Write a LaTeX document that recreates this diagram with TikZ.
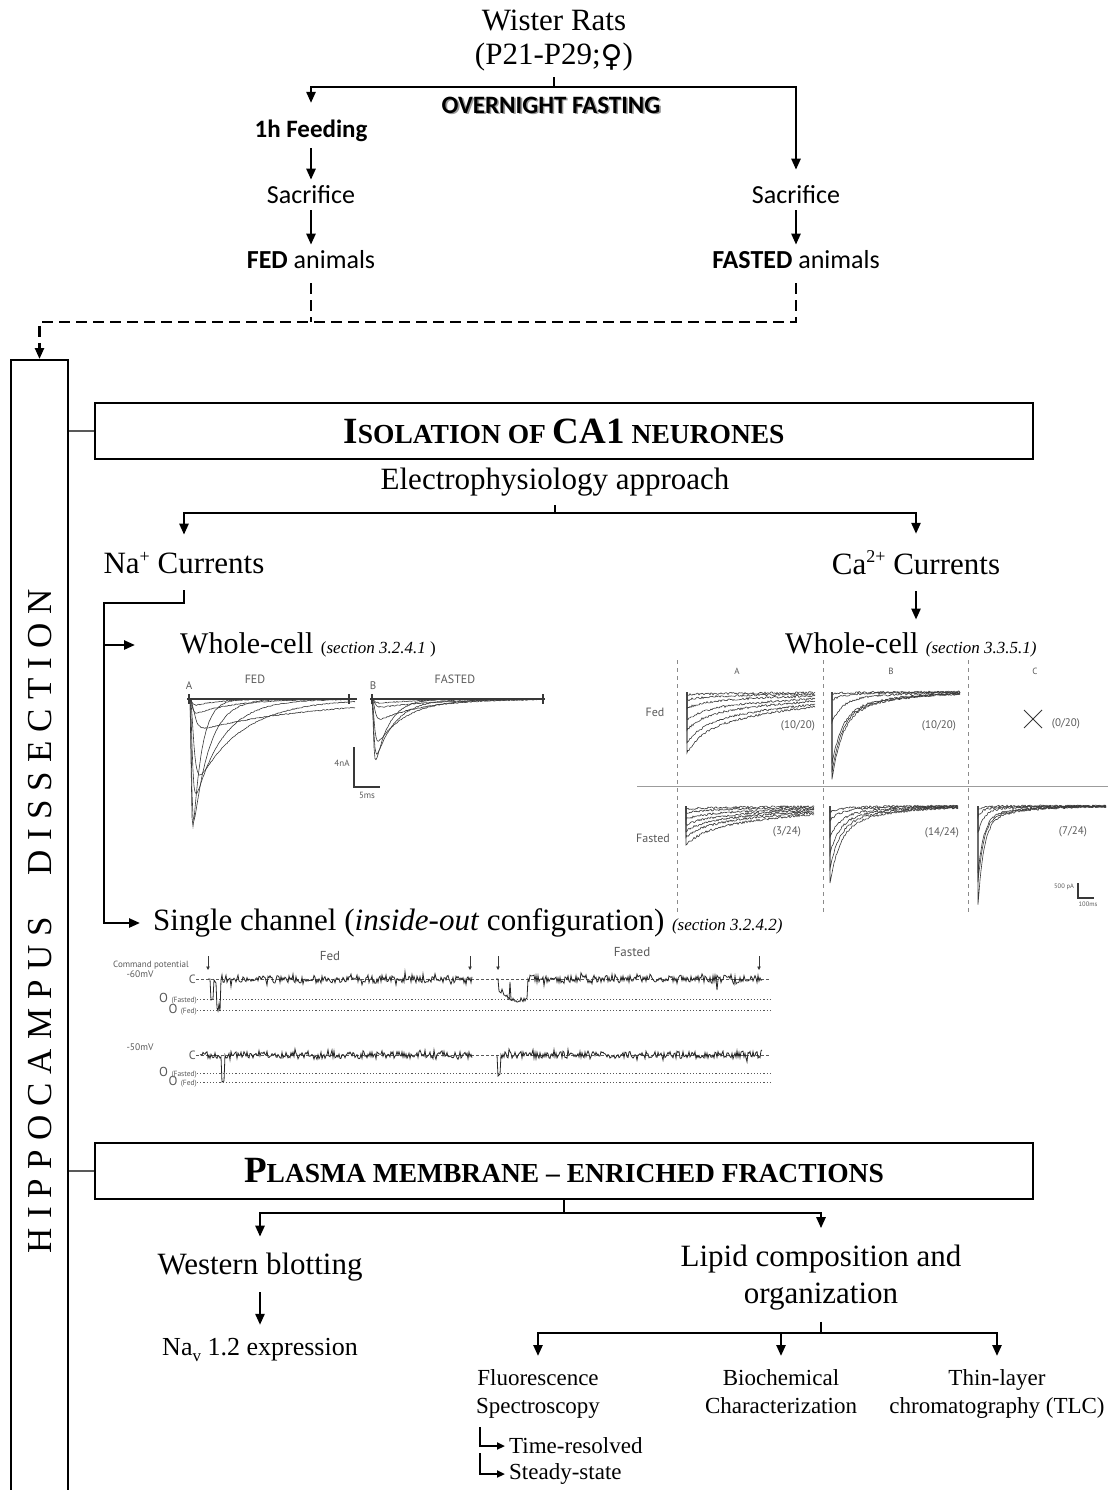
\documentclass[tikz,border=0pt]{standalone}
\usepackage{fontspec}
\setmainfont{Liberation Serif}
\newfontfamily\calibri{Carlito}
\newfontfamily\figsans{PT Sans}
\newfontfamily\symbfont{DejaVu Sans}
\usepackage{xcolor}
\usetikzlibrary{positioning,arrows.meta}

\definecolor{trace}{gray}{0.22}
\definecolor{panel}{gray}{0.35}

\newcommand\fsize[1]{\fontsize{#1}{#1}\selectfont}
% fake small capitals: big letters first, then small ones
\newcommand\fsc[2]{{\fsize{37}#1}{\fsize{27.5}#2}}
\newcommand\shadowtext[1]{\rlap{\kern1.6pt\raisebox{-1.6pt}{\color{black!40}#1}}#1}
\newcommand\supr[1]{\raisebox{0.38em}{\fsize{18}#1}}
\newcommand\spc{\hspace{0.26em}}

\begin{document}
\begin{tikzpicture}[x=1pt,y=-1pt,
  every node/.style={inner sep=0pt},
  big/.style={font=\fsize{31}},
  leaf/.style={font=\fontsize{23}{28}\selectfont,align=center,anchor=north},
  cal/.style={font=\calibri\fsize{26}},
  calb/.style={font=\calibri\bfseries\fsize{25}},
  lab/.style={font=\figsans\fsize{#1},text=panel},
  lab/.default=11,
  conn/.style={line width=2.4pt},
  arr/.style={conn,-{Triangle[length=11pt,width=9pt]}},
  dconn/.style={conn,dash pattern=on 11pt off 6pt},
  sarr/.style={line width=2pt,-{Triangle[length=8pt,width=7pt]}},
  thinconn/.style={line width=1.3pt,gray!70!black},
  stagebox/.style={draw,line width=2.4pt,minimum width=938pt,minimum height=56pt,font=\bfseries\fsize{27.5}},
  tr/.style={trace,line width=0.6pt},
  chan/.style={black!85,line width=0.8pt},
  scalebar/.style={trace,line width=1.1pt},
  levelline/.style={panel,line width=0.8pt,dash pattern=on 2.5pt off 2.5pt},
  openline/.style={panel,line width=0.8pt,dash pattern=on 1.2pt off 2pt},
  stimarrow/.style={trace,line width=1pt,-{Triangle[length=3.5pt,width=3.5pt]}}
]
\useasboundingbox (0,0) rectangle (1116,1490);

% animals and feeding protocol
\node[big] (wister) at (554,20) {Wister Rats};
\node[big] (age) at (554,57) {(P21-P29;{\symbfont\bfseries\fsize{30}\raisebox{-2pt}{♀}})};
\node[calb] (fasting) at (551,106) {\shadowtext{OVERNIGHT FASTING}};
\node[calb] (feeding) at (311,131) {1h Feeding};
\node[cal] (sacfed) at (311,195) {Sacrifice};
\node[cal] (fed) at (311,260) {\textbf{FED} animals};
\node[cal] (sacfasted) at (796,195) {Sacrifice};
\node[cal] (fasted) at (796,260) {\textbf{FASTED} animals};
\coordinate (split1) at (554,87);
\draw[conn,shorten <=6pt] (age) -- (split1);
\draw[arr,shorten >=17pt] (split1) -| (feeding.north);
\draw[arr,shorten >=16pt] (split1) -| (sacfasted.north);
\draw[arr,shorten <=6pt,shorten >=6pt] (feeding) -- (sacfed);
\draw[arr,shorten <=6pt,shorten >=6pt] (sacfed) -- (fed);
\draw[arr,shorten <=6pt,shorten >=6pt] (sacfasted) -- (fasted);

% both groups go to the dissection
\node[draw,line width=1.8pt,minimum width=57pt,minimum height=1160pt,anchor=north] (hippo) at (39.5,359) {};
\node[rotate=90,font=\fsize{35}] (hippotext) at (40,921)
  {H\spc I\spc P\spc P\spc O\spc C\spc A\spc M\spc P\spc U\spc S\hspace{1.2em}D\spc I\spc S\spc S\spc E\spc C\spc T\spc I\spc O\spc N};
\coordinate (dashcorner) at (39.5,322);
\draw[dconn,shorten <=14pt] (fed.south) -- (fed.south |- dashcorner);
\draw[dconn,shorten <=14pt,-{Triangle[length=11pt,width=9pt]}] (fasted.south) -- (fasted.south |- dashcorner) -- (dashcorner) -- (hippo.north);

% electrophysiology branch
\node[stagebox] (isol) at (564,431) {\fsc{I}{SOLATION OF} \fsc{CA1}{} \fsc{}{NEURONES}};
\draw[thinconn] (hippo.east |- isol.west) -- (isol.west);
\node[big] (ephys) at (555,482) {Electrophysiology approach};
\coordinate (split2) at (555,513);
\draw[conn,shorten <=9pt] (ephys) -- (split2);
\node[big] (na) at (184,563) {Na\supr{+} Currents};
\node[big] (ca) at (916,563) {Ca\supr{2+} Currents};
\draw[arr,shorten >=17pt] (split2) -| (na.north);
\draw[arr,shorten >=17pt] (split2) -| (ca.north);

\node[font=\fsize{30},anchor=west] (wcna) at (180,645) {Whole-cell {\fsize{17}(\textit{section 3.2.4.1} )}};
\node[font=\fsize{30},anchor=west] (wcca) at (785,645) {Whole-cell {\fsize{17}\itshape (section 3.3.5.1)}};
\node[big,anchor=west] (single) at (153,923) {Single channel (\textit{inside-out} configuration) {\fsize{17}\itshape (section 3.2.4.2)}};
\coordinate (nasplit) at (104,603);
\draw[arr,shorten <=16pt,shorten >=13pt] (na.south) |- (nasplit) |- (single.west);
\draw[arr,shorten >=45pt] (nasplit |- wcna.west) -- (wcna.west);
\draw[arr,shorten <=16pt,shorten >=13pt] (ca.south) -- (ca.south |- wcca.north);

% Na+ whole-cell traces, fed (A) and fasted (B)
\pgfmathsetseed{11}
\foreach \xo/\deps in {190/{128/0.8/9,121/1/16,95/1.5/28,76/2.5/45,29/3/120,14/1.5/40,6/1.5/25},
                       372/{61/1/14,55/1.2/20,42/1.5/30,20/2/45,8/2/60,4/2/40}}{
  \foreach \dep/\ri/\de in \deps{
    \pgfmathsetmacro\tpk{\ri*ln(1+3*\de/\ri)}
    \pgfmathsetmacro\nrm{(1-exp(-\tpk/\ri))^3*exp(-\tpk/\de)}
    \draw[tr] plot[domain=0:165,samples=166] ({\xo+\x},{699+\dep*(1-exp(-\x/\ri))^3*exp(-\x/\de)/\nrm+0.5*rand});
  }
}
\draw[scalebar] (187,699) -- (357,699) (189,694) -- (189,704) (349,694) -- (349,704);
\draw[scalebar] (370,699) -- (545,699) (372,694) -- (372,704) (543,694) -- (543,704);
\node[lab=11] (naA) at (189,686) {A};
\node[lab=12] (nafed) at (255,679) {FED};
\node[lab=11] (naB) at (373,686) {B};
\node[lab=12] (nafasted) at (455,679) {FASTED};
\draw[scalebar] (354,747) -- (354,787) -- (380,787);
\node[lab=9] (nanA) at (342,763) {4nA};
\node[lab=9] (nams) at (367,795) {5ms};

% Ca2+ whole-cell traces (columns A, B, C)
\foreach \gx in {677,823,968} \draw[panel!70,dash pattern=on 4pt off 4pt,line width=0.6pt] (\gx,660) -- (\gx,913);
\draw[panel!60,line width=0.8pt] (637,786) -- (1108,786);
\foreach \xs/\yz/\fr/\ta/\tb/\deps in {687/692/0.35/15/130/{61,51,38,28,16,8,3},
  832/692/0.7/10/50/{88,80,72,30,8,2},
  686/806/0.3/15/110/{39,31,25,19,13,7,3},
  830/806/0.7/10/50/{77,62,47,31,14,6},
  978/806/0.85/6/40/{99,77,67,27,10,3}}{
  \foreach \dep in \deps
    \draw[tr] (\xs,\yz) -- plot[domain=0:128,samples=129] ({\xs+\x},{\yz+\dep*(\fr*exp(-\x/\ta)+(1-\fr)*exp(-\x/\tb))+1.1*rand});
}
\draw[tr,line width=0.8pt] (1024,710) -- (1042,728) (1024,728) -- (1042,710);
\foreach \c/\cx in {A/737,B/891,C/1035} \node[lab=9] (col\c) at (\cx,671) {\c};
\node[lab=12] (cafed) at (655,712) {Fed};
\node[lab=12] (cafasted) at (653,838) {Fasted};
\node[lab=11] (cntfa) at (798,726) {(10/20)};
\node[lab=11] (cntfb) at (939,726) {(10/20)};
\node[lab=11] (cntfc) at (1066,724) {(0/20)};
\node[lab=11] (cntsa) at (787,832) {(3/24)};
\node[lab=11] (cntsb) at (942,833) {(14/24)};
\node[lab=11] (cntsc) at (1073,832) {(7/24)};
\draw[scalebar] (1078,883) -- (1078,898) -- (1094,898);
\node[lab=6.5] (capa) at (1064,887) {500 pA};
\node[lab=6.5] (cams) at (1088,904) {100ms};

% single channel recordings at two command potentials
\node[lab=9,anchor=west] (cmd) at (113,965) {Command potential};
\node[lab=13] (scfed) at (330,956) {Fed};
\node[lab=13] (scfasted) at (632,952) {Fasted};
\foreach \row/\vy/\cy/\oa/\ob in {60/974/979/999/1010, 50/1047/1055/1073/1082}{
  \node[lab=9.5] (v\row) at (140,\vy) {-\row mV};
  \node[lab=12,anchor=east] (c\row) at (196,\cy) {C};
  \node[lab=13,anchor=east] (oa\row) at (197,\oa) {O {\fsize{7.5}(Fasted)}};
  \node[lab=13,anchor=east] (ob\row) at (197,\ob) {O {\fsize{7.5}(Fed)}};
  \draw[levelline] (c\row.east) -- (770,\cy);
  \draw[openline] (oa\row.east) -- (770,\oa);
  \draw[openline] (ob\row.east) -- (770,\ob);
}
\foreach \ax in {208,470,498,759} \draw[stimarrow] (\ax,956) -- (\ax,970);
\pgfmathsetseed{5}
% -60 mV
\draw[chan] (208,979) -- (210,979) -- (211,1000) -- (213,999) -- (214,980) -- (216,983) -- (217,1008) -- (218,1011) -- (219,1004) -- (220,1011) -- (221,980)
  -- plot[domain=222:472,samples=251] (\x,{979+3.8*rand+6*rand*rnd^4});
\draw[chan] (496,979) -- (498,979) -- (499,991) -- plot[domain=500:527,samples=28] (\x,{min(1000,990+(\x-500)*0.8)+2.5*rand}) -- (528,979)
  -- plot[domain=529:762,samples=234] (\x,{979+3.8*rand+6*rand*rnd^4});
\draw[chan] (509,1000) -- (510,982) -- (511,999);
\draw[chan] (716,980) -- (717,990) -- (718,980);
% -50 mV
\draw[chan] (200,1055) -- plot[domain=201:221,samples=21] (\x,{1055+3.5*rand}) -- (222,1082) -- (224,1081) -- (225,1055)
  -- plot[domain=226:472,samples=247] (\x,{1055+3.8*rand+6*rand*rnd^4});
\draw[chan] (497,1055) -- (498,1076) -- (500,1074) -- (501,1055)
  -- plot[domain=502:762,samples=261] (\x,{1055+3.8*rand+6*rand*rnd^4});

% membrane fractions branch
\node[stagebox] (plasma) at (564,1171) {\fsc{P}{LASMA MEMBRANE} {\fsize{27.5}–} \fsc{}{ENRICHED FRACTIONS}};
\draw[thinconn] (hippo.east |- plasma.west) -- (plasma.west);
\coordinate (split3) at (564,1213);
\draw[conn] (plasma.south) -- (split3);
\node[big] (blot) at (260,1267) {Western blotting};
\node[font=\fsize{26}] (nav) at (260,1350) {Na\raisebox{-0.25em}{\fsize{17}v} 1.2 expression};
\node[font=\fontsize{31}{37}\selectfont,align=center] (lipid) at (821,1278) {Lipid composition and\\organization};
\draw[arr,shorten >=16pt] (split3) -| (blot.north);
\draw[arr,shorten >=17pt] (split3) -| (lipid.north);
\draw[arr,shorten <=11pt,shorten >=13pt] (blot) -- (nav);

\coordinate (split4) at (821,1333);
\draw[conn,shorten <=11pt] (lipid) -- (split4);
\node[leaf] (fluor) at (538,1369) {Fluorescence\\Spectroscopy};
\node[leaf] (biochem) at (781,1369) {Biochemical\\Characterization};
\node[leaf] (tlc) at (997,1369) {Thin-layer\\chromatography (TLC)};
\foreach \n in {fluor,biochem,tlc} \draw[arr,shorten >=13pt] (split4) -| (\n.north);

\node[font=\fsize{23},anchor=west] (timeres) at (509,1446) {Time-resolved};
\node[font=\fsize{23},anchor=west] (steady) at (509,1474) {Steady-state};
\coordinate (fstem1) at (480,1427);
\coordinate (fstem2) at (480,1453);
\draw[sarr,shorten >=4pt] (fstem1) |- (timeres.west);
\draw[sarr,shorten >=4pt] (fstem2) |- (steady.west);
\end{tikzpicture}
\end{document}
